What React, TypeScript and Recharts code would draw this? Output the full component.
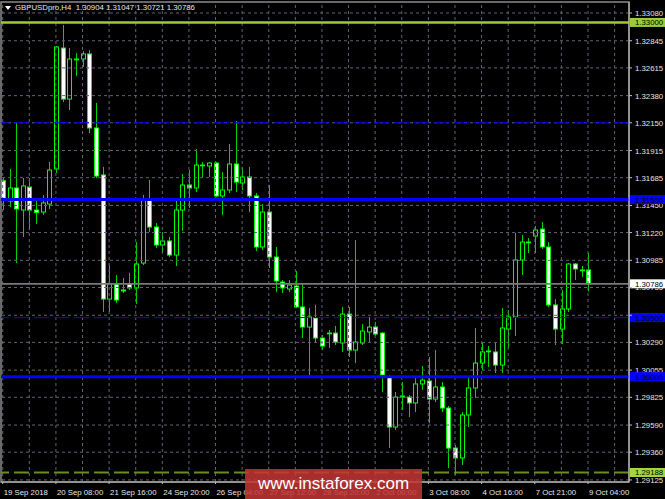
import React from 'react';
import { ComposedChart, Bar, XAxis, YAxis, ReferenceLine, ReferenceArea } from 'recharts';

// ---- Data (GBPUSDpro, H4) ----
const openPrices = [
  1.31659, 1.31488, 1.31598, 1.31411, 1.31606, 1.31411, 1.31394, 1.31462, 1.31759, 1.32783,
  1.32351, 1.32690, 1.32690, 1.32733, 1.32106, 1.31708, 1.30657, 1.30785, 1.30734, 1.30785,
  1.30751, 1.30962, 1.31496, 1.31267, 1.31115, 1.31149, 1.31030, 1.31411, 1.31623, 1.31598,
  1.31792, 1.31784, 1.31809, 1.31530, 1.31581, 1.31801, 1.31640, 1.31691, 1.31530, 1.31098,
  1.31394, 1.31013, 1.30801, 1.30742, 1.30768, 1.30590, 1.30420, 1.30497, 1.30327, 1.30369,
  1.30369, 1.30285, 1.30530, 1.30225, 1.30285, 1.30378, 1.30420, 1.30369, 1.29997, 1.29573,
  1.29836, 1.29827, 1.29777, 1.29938, 1.29963, 1.29810, 1.29912, 1.29734, 1.29395, 1.29311,
  1.29675, 1.29904, 1.30115, 1.30217, 1.30209, 1.30098, 1.30403, 1.30505, 1.30988, 1.31140,
  1.31191, 1.31250, 1.31098, 1.30607, 1.30403, 1.30573, 1.30954, 1.30903, 1.30904,
];
const highPrices = [
  1.31682, 1.31759, 1.32148, 1.31682, 1.31682, 1.31496, 1.31538, 1.31818, 1.32800, 1.32978,
  1.32783, 1.32741, 1.32758, 1.32766, 1.32318, 1.31776, 1.30945, 1.30861, 1.30835, 1.30878,
  1.31140, 1.31538, 1.31665, 1.31301, 1.31225, 1.31183, 1.31496, 1.31716, 1.31750, 1.31928,
  1.31818, 1.31818, 1.31818, 1.31733, 1.31970, 1.32165, 1.31776, 1.31776, 1.31555, 1.31462,
  1.31623, 1.31098, 1.30818, 1.30818, 1.30895, 1.30785, 1.30581, 1.30607, 1.30353, 1.30395,
  1.30429, 1.30590, 1.30590, 1.31157, 1.30446, 1.30505, 1.30463, 1.30378, 1.30014, 1.29870,
  1.29954, 1.29844, 1.29997, 1.30090, 1.30166, 1.30225, 1.29954, 1.29751, 1.29421, 1.29700,
  1.29997, 1.30412, 1.30293, 1.30259, 1.30285, 1.30581, 1.30564, 1.31216, 1.31200, 1.31174,
  1.31276, 1.31310, 1.31140, 1.30657, 1.30734, 1.30962, 1.30962, 1.30937, 1.31047,
];
const lowPrices = [
  1.31411, 1.31437, 1.30962, 1.31183, 1.31242, 1.31293, 1.31369, 1.31420, 1.31725, 1.32326,
  1.32258, 1.32546, 1.32623, 1.32063, 1.31682, 1.30547, 1.30547, 1.30624, 1.30708, 1.30734,
  1.30615, 1.30945, 1.31225, 1.31089, 1.31047, 1.31013, 1.30937, 1.31233, 1.31428, 1.31564,
  1.31682, 1.31691, 1.31521, 1.31369, 1.31555, 1.31564, 1.31581, 1.31394, 1.31064, 1.31072,
  1.30920, 1.30717, 1.30708, 1.30717, 1.30581, 1.30327, 1.30014, 1.30285, 1.30225, 1.30242,
  1.30268, 1.30209, 1.30166, 1.30115, 1.30268, 1.30293, 1.30344, 1.29870, 1.29395, 1.29548,
  1.29717, 1.29658, 1.29700, 1.29887, 1.29607, 1.29785, 1.29700, 1.29226, 1.29167, 1.29251,
  1.29573, 1.29819, 1.30056, 1.30082, 1.30031, 1.30031, 1.30242, 1.30344, 1.30861, 1.31047,
  1.31047, 1.31081, 1.30590, 1.30268, 1.30276, 1.30547, 1.30818, 1.30844, 1.30721,
];
const closePrices = [
  1.31510, 1.31598, 1.31420, 1.31615, 1.31411, 1.31390, 1.31471, 1.31750, 1.32792, 1.32351,
  1.32690, 1.32686, 1.32733, 1.32106, 1.31699, 1.30657, 1.30785, 1.30649, 1.30725, 1.30751,
  1.30954, 1.31496, 1.31267, 1.31115, 1.31149, 1.31030, 1.31411, 1.31623, 1.31598, 1.31792,
  1.31788, 1.31809, 1.31530, 1.31581, 1.31801, 1.31648, 1.31691, 1.31530, 1.31098, 1.31394,
  1.31013, 1.30810, 1.30751, 1.30776, 1.30590, 1.30420, 1.30505, 1.30327, 1.30259, 1.30365,
  1.30293, 1.30530, 1.30225, 1.30293, 1.30386, 1.30420, 1.30361, 1.30014, 1.29573, 1.29827,
  1.29827, 1.29777, 1.29938, 1.29971, 1.29810, 1.29912, 1.29734, 1.29395, 1.29311, 1.29675,
  1.29904, 1.30115, 1.30209, 1.30213, 1.30098, 1.30412, 1.30505, 1.30988, 1.31140, 1.31136,
  1.31242, 1.31098, 1.30607, 1.30403, 1.30573, 1.30954, 1.30912, 1.30899, 1.30786,
];

const timeTickIndex = [0, 8, 16, 24, 32, 40, 48, 56, 64, 72, 80, 88];
const timeTickLabels = [
  '19 Sep 2018', '20 Sep 08:00', '21 Sep 16:00', '24 Sep 20:00', '26 Sep 04:00', '27 Sep 12:00',
  '28 Sep 20:00', '2 Oct 00:00', '3 Oct 08:00', '4 Oct 16:00', '7 Oct 21:00', '9 Oct 04:00',
];
const gridIndex = [0, 4, 8, 12, 16, 20, 24, 28, 32, 36, 40, 44, 48, 52, 56, 60, 64, 68, 72, 76, 80, 84, 88, 92];
const priceTicks = [
  1.3308, 1.32845, 1.32615, 1.3238, 1.3215, 1.31915, 1.31685, 1.3145, 1.3122,
  1.30985, 1.30755, 1.3052, 1.3029, 1.30055, 1.29825, 1.2959, 1.2936, 1.29125,
];

const levelPrices = [1.33, 1.3215, 1.315, 1.30786, 1.305, 1.3, 1.29188];
const levelColors = ['#9acd32', '#0000ff', '#0000ff', '#7a7a7a', '#0000ff', '#0000ff', '#6b8e23'];
const levelWidths = [2.5, 1, 3, 1.8, 1, 3, 2];
const levelDashes = ['', '15 5', '', '', '15 5', '', '15 5'];

const tagPrices = [1.33, 1.315, 1.30786, 1.305, 1.3, 1.29188];
const tagColors = ['#9acd32', '#0000ff', '#ffffff', '#0000ff', '#0000ff', '#a4d63c'];

const X_DOMAIN: [number, number] = [-0.2556, 94.166];
const Y_DOMAIN: [number, number] = [1.291075, 1.331731];

const FONT = '"Liberation Sans", Arial, sans-serif';
const TXT = '#e4e4e4';

const data = openPrices.map((o, i) => ({
  i,
  o,
  h: highPrices[i],
  l: lowPrices[i],
  c: closePrices[i],
  range: [lowPrices[i], highPrices[i]],
}));

const Candle = (props: any) => {
  const { x, y, width, height, payload } = props;
  if (x == null || payload == null || !isFinite(height)) return null;
  const { o, h, l, c } = payload;
  const k = h - l === 0 ? 0 : height / (h - l);
  const yO = y + (h - o) * k;
  const yC = y + (h - c) * k;
  const cx = Math.round(x + width / 2) + 0.5;
  const top = Math.min(yO, yC);
  const bh = Math.max(Math.abs(yC - yO), 0.8);
  const bull = c > o;
  return (
    <g>
      <line x1={cx} x2={cx} y1={y} y2={y + height} stroke="#00d400" strokeWidth={1} />
      <rect x={cx - 2} y={top} width={4} height={bh} fill={bull ? '#000000' : '#ffffff'} stroke="#00ff00" strokeWidth={1} />
    </g>
  );
};

const TimeTick = (props: any) => {
  const { x, y, payload } = props;
  const idx = timeTickIndex.indexOf(payload.value);
  return (
    <text x={x + 1} y={y + 9} fill={TXT} fontSize={7.8} fontFamily={FONT} textAnchor="start">
      {idx >= 0 ? timeTickLabels[idx] : ''}
    </text>
  );
};

const EmptyTick = () => <g />;

// price label drawn at the right of the plot, via the reference line's viewBox
const makePriceLabel = (price: number) => (props: any) => {
  const vb = props.viewBox || {};
  const x0 = (vb.x ?? 0) + (vb.width ?? 0);
  const yc = vb.y ?? 0;
  return (
    <text x={x0 + 6} y={yc + 3} fill={TXT} fontSize={7.8} fontFamily={FONT} textAnchor="start">
      {price.toFixed(5)}
    </text>
  );
};

const makeTag = (price: number, bg: string) => (props: any) => {
  const vb = props.viewBox || {};
  const x0 = (vb.x ?? 0) + (vb.width ?? 0) + 1;
  const yc = vb.y ?? 0;
  return (
    <g>
      <rect x={x0} y={yc - 4.5} width={36} height={9} fill={bg} />
      <text x={x0 + 5} y={yc + 3} fill="#000000" fontSize={7.8} fontFamily={FONT} textAnchor="start">
        {price.toFixed(5)}
      </text>
    </g>
  );
};

export default function App() {
  return (
    <div style={{ position: 'absolute', left: 0, top: 0, width: 665, height: 499, background: '#000000', overflow: 'hidden' }}>
      <ComposedChart
        width={665}
        height={499}
        data={data}
        margin={{ top: 2, right: 0, bottom: 0, left: 1 }}
        style={{ background: '#000000' }}
      >
        <XAxis
          dataKey="i"
          type="number"
          domain={X_DOMAIN}
          allowDataOverflow
          ticks={timeTickIndex}
          interval={0}
          height={17}
          tickSize={2}
          tick={<TimeTick />}
          axisLine={{ stroke: '#bdbdbd' }}
          tickLine={{ stroke: '#bdbdbd' }}
        />
        <YAxis
          orientation="right"
          type="number"
          domain={Y_DOMAIN}
          allowDataOverflow
          ticks={priceTicks}
          interval={0}
          width={36}
          tickSize={3}
          tick={<EmptyTick />}
          axisLine={{ stroke: '#bdbdbd' }}
          tickLine={{ stroke: '#bdbdbd' }}
        />
        {gridIndex.map((g) => (
          <ReferenceLine key={'vg' + g} x={g} stroke="#5e6470" strokeDasharray="3 3" strokeWidth={1} />
        ))}
        {priceTicks.map((p) => (
          <ReferenceLine
            key={'hg' + p}
            y={p}
            stroke="#5e6470"
            strokeDasharray="3 3"
            strokeWidth={1}
            label={makePriceLabel(p)}
          />
        ))}
        <ReferenceArea x1={X_DOMAIN[0]} x2={X_DOMAIN[1]} y1={Y_DOMAIN[0]} y2={Y_DOMAIN[1]} fill="none" stroke="#8a8a8a" strokeWidth={1.5} fillOpacity={0} />
        <Bar dataKey="range" barSize={5} shape={<Candle />} isAnimationActive={false} />
        {levelPrices.map((p, k) => (
          <ReferenceLine
            key={'lv' + p}
            y={p}
            stroke={levelColors[k]}
            strokeWidth={levelWidths[k]}
            strokeDasharray={levelDashes[k] || undefined}
          />
        ))}
        {tagPrices.map((p, k) => (
          <ReferenceLine key={'tg' + p} y={p} stroke="none" strokeWidth={0} label={makeTag(p, tagColors[k])} />
        ))}
      </ComposedChart>
      <div style={{ position: 'absolute', left: 5, top: 3, fontFamily: FONT, fontSize: 7.8, color: TXT, whiteSpace: 'pre', lineHeight: '10px' }}>
        <span style={{ display: 'inline-block', width: 0, height: 0, borderLeft: '3px solid transparent', borderRight: '3px solid transparent', borderTop: '4px solid #ffffff', marginRight: 4, verticalAlign: 'middle' }} />
        {'GBPUSDpro,H4  1.30904 1.31047 1.30721 1.30786'}
      </div>
      <div
        style={{
          position: 'absolute',
          left: 245,
          top: 469,
          width: 177,
          height: 30,
          background: 'rgba(196, 52, 52, 0.86)',
          color: '#ffffff',
          fontFamily: FONT,
          fontSize: 17,
          lineHeight: '30px',
          textAlign: 'center',
        }}
      >
        www.instaforex.com
      </div>
    </div>
  );
}
